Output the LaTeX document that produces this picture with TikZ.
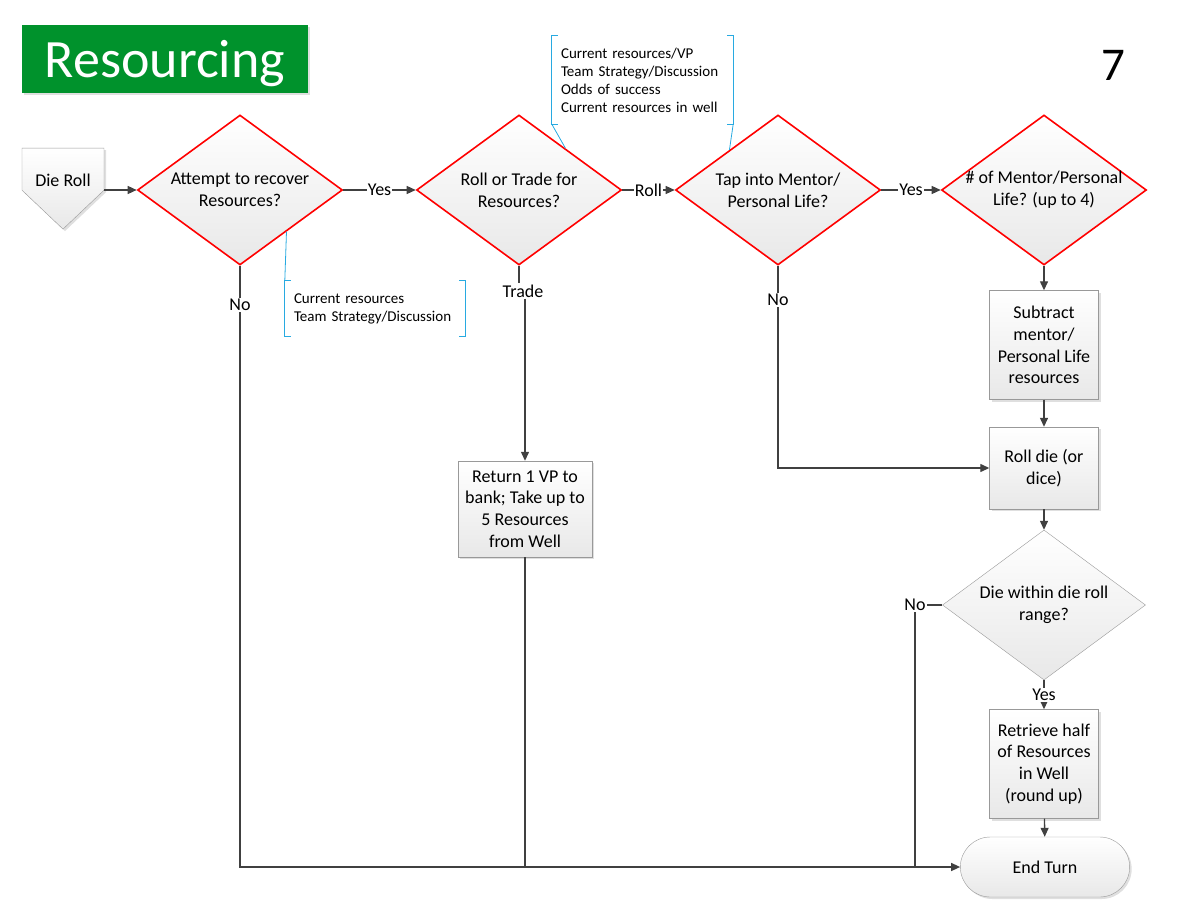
\documentclass[tikz,border=0pt]{standalone}
\usepackage{fontspec}
\setmainfont{Carlito}
\usetikzlibrary{shapes.geometric,shapes.symbols,shapes.misc,arrows.meta,shadows,calc}

\definecolor{titlegreen}{RGB}{0,146,44}
\definecolor{linegray}{RGB}{64,64,64}
\definecolor{notecyan}{RGB}{40,170,225}
\definecolor{boxgray}{RGB}{232,232,232}

\tikzset{
	txt/.style={font=\fontsize{18}{21.7}\selectfont, align=center},
	notetxt/.style={font=\fontsize{15}{18}\selectfont, align=left, inner xsep=9, inner ysep=0},
	lbl/.style={txt, fill=white, inner sep=1},
	faded/.style={top color=white, bottom color=boxgray},
	shade box/.style={drop shadow={shadow xshift=2pt, shadow yshift=-2pt, opacity=0.25}},
	procbox/.style={txt, faded, shade box, draw=gray!80, inner sep=0},
	decision/.style={diamond, faded, draw=red, line width=1.6pt, minimum width=205, minimum height=150, inner sep=0},
	flow/.style={draw=linegray, line width=1.3pt, -{Triangle[length=9pt, width=8pt]}},
	line/.style={draw=linegray, line width=1.3pt},
	bracket/.style={draw=notecyan, line width=0.8pt}
}

\begin{document}
\begin{tikzpicture}[x=1pt, y=-1pt]
	\useasboundingbox (0,0) rectangle (1191,923);

	% heading
	\node[fill=titlegreen, text=white, font=\fontsize{54}{60}\selectfont, minimum width=286, minimum height=68, inner sep=0, text depth=0, shade box] (title) at (165,59) {Resourcing};
	\node[font=\fontsize{47}{50}\selectfont] (pagenum) at (1113,65) {7};

	% top row
	\node[signal, signal to=south, signal pointer angle=93, faded, draw=gray!80, shade box, txt, minimum width=82, inner xsep=0, inner ysep=0, text height=38, text depth=4, anchor=north] (die) at (63,148) {Die Roll};
	\node[decision, label={[txt]center:Attempt to recover\\Resources?}] (d1) at (240,190) {};
	\node[decision, label={[txt]center:Roll or Trade for\\Resources?}] (d2) at (519,190) {};
	\node[decision, label={[txt]center:Tap into Mentor/\\Personal Life?}] (d3) at (778,190) {};
	\node[decision, label={[txt]center:\# of Mentor/Personal\\Life? (up to 4)}] (d4) at (1044,190) {};

	% notes
	\node[notetxt, text width=162, minimum height=55] (note1) at (375,308.5) {Current resources\\Team Strategy/Discussion};
	\node[notetxt, text width=163, minimum height=88] (note2) at (642.5,80) {Current resources/VP\\Team Strategy/Discussion\\Odds of success\\Current resources in well};

	% boxes
	\node[lbl] (trade) at (523,291) {Trade};
	\node[procbox, minimum width=134, minimum height=96] (ret) at (525,509) {Return 1 VP to\\bank; Take up to\\5 Resources\\from Well};
	\node[procbox, minimum width=109, minimum height=109] (sub) at (1044,345) {Subtract\\mentor/\\Personal Life\\resources};
	\node[procbox, minimum width=109, minimum height=82] (rolld) at (1044,468) {Roll die (or\\dice)};
	\node[diamond, faded, draw=gray!80, minimum width=203, minimum height=150, inner sep=0, label={[txt]center:Die within die roll\\range?}] (d5) at (1044,605) {};
	\node[procbox, minimum width=109, minimum height=109] (half) at (1044,764) {Retrieve half\\of Resources\\in Well\\(round up)};
	\node[rounded rectangle, txt, faded, draw=gray!80, shade box, minimum width=176, minimum height=60] (endt) at (1045,867) {End Turn};
	\coordinate (nocorner) at (915,605);

	% connectors
	\draw[flow] (die.east |- d1.west) -- (d1.west);
	\draw[flow] (d1) -- node[lbl]{Yes} (d2);
	\draw[flow] (d2) -- node[lbl]{Roll} (d3);
	\draw[flow] (d3) -- node[lbl]{Yes} (d4);
	\draw[flow] (d1.south) -- node[lbl, pos=0.065]{No} (d1.south |- endt.west) -- (endt.west);
	\draw[line] (d2.south) -- (d2.south |- trade.north);
	\draw[flow] (trade.south -| ret.north) -- (ret.north);
	\draw[line] (ret.south) -- (ret.south |- endt.west);
	\draw[flow] (d3.south) -- node[lbl, pos=0.17]{No} (d3.south |- rolld.west) -- (rolld.west);
	\draw[flow] (d4) -- (sub);
	\draw[flow] (sub) -- (rolld);
	\draw[flow] (rolld) -- (d5);
	\draw[flow] (d5) -- node[lbl]{Yes} (half);
	\draw[line] (d5.west) -- (nocorner) node[lbl]{No} -- (nocorner |- endt.west);
	\draw[flow] (half) -- (endt);

	% note brackets
	\draw[bracket] ([xshift=6]note1.north west) -- (note1.north west) -- (note1.south west) -- ([xshift=6]note1.south west);
	\draw[bracket] ([xshift=-6]note1.north east) -- (note1.north east) -- (note1.south east) -- ([xshift=-6]note1.south east);
	\draw[bracket] ($(d1.east)!0.55!(d1.south)$) -- (note1.north west);
	\draw[bracket] ([xshift=6]note2.north west) -- (note2.north west) -- (note2.south west) -- ([xshift=6]note2.south west);
	\draw[bracket] ([xshift=-6]note2.north east) -- (note2.north east) -- (note2.south east) -- ([xshift=-6]note2.south east);
	\draw[bracket] (note2.south west) -- ($(d2.north)!0.45!(d2.east)$);
	\draw[bracket] (note2.south east) -- ($(d3.west)!0.53!(d3.north)$);
\end{tikzpicture}
\end{document}
